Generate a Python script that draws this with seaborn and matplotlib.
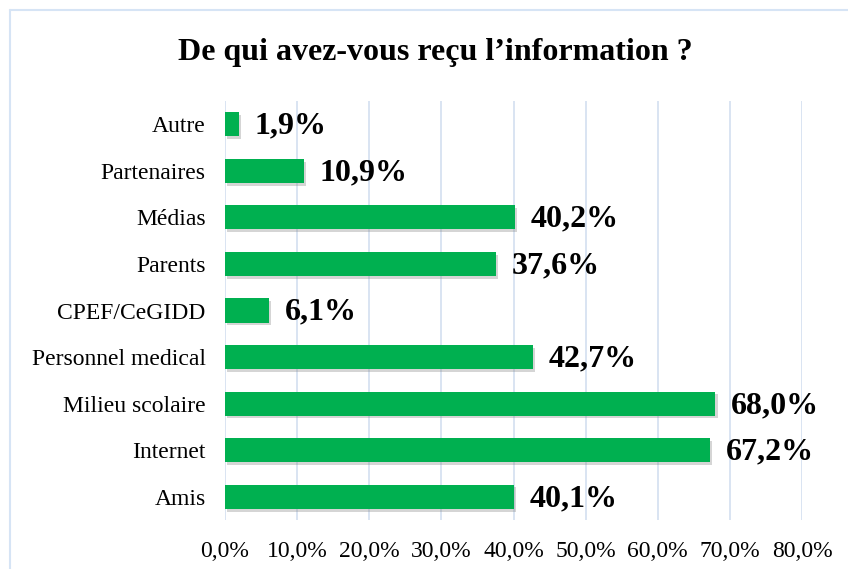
import matplotlib
matplotlib.use("Agg")
import matplotlib.pyplot as plt
import matplotlib.patheffects as pe
from matplotlib.lines import Line2D
from matplotlib.ticker import FuncFormatter, MultipleLocator
import pandas as pd
import seaborn as sns

# Data (top to bottom)
categories = ['Autre', 'Partenaires', 'Médias', 'Parents', 'CPEF/CeGIDD',
              'Personnel medical', 'Milieu scolaire', 'Internet', 'Amis']
values = [1.9, 10.9, 40.2, 37.6, 6.1, 42.7, 68.0, 67.2, 40.1]

title = "De qui avez-vous reçu l’information ?"
bar_color = '#00B050'
grid_color = '#D3DFF0'

sns.set_theme(style="white")
plt.rcParams['font.family'] = ['Liberation Serif', 'DejaVu Serif']

df = pd.DataFrame({'Source': categories, 'Pct': values})

fig = plt.figure(figsize=(8.48, 5.69), dpi=100)
ax = fig.add_axes([0.2653, 0.0861, 0.6805, 0.7364])

sns.barplot(data=df, y='Source', x='Pct', order=categories, color=bar_color,
            saturation=1, width=0.52, linewidth=0, ax=ax, zorder=3)

for patch in ax.patches:
    patch.set_path_effects([pe.SimplePatchShadow(offset=(1.5, -2), shadow_rgbFace='#777777', alpha=0.3),
                            pe.Normal()])

for i, v in enumerate(values):
    ax.text(v + 2.2, i + 0.04, f"{v:.1f}%".replace('.', ','), va='center', ha='left',
            fontsize=23, fontweight='bold', color='black')

ax.set_xlim(0, 80)
ax.set_ylim(len(categories) - 0.5, -0.5)
ax.xaxis.set_major_locator(MultipleLocator(10))
ax.xaxis.set_major_formatter(FuncFormatter(lambda x, _: f"{x:.1f}%".replace('.', ',')))
ax.grid(axis='x', color=grid_color, linewidth=1.2, zorder=0)
ax.grid(axis='y', visible=False)
for s in ax.spines.values():
    s.set_visible(False)
ax.tick_params(axis='both', length=0, colors='black')
ax.tick_params(axis='x', labelsize=17, pad=15)
ax.tick_params(axis='y', labelsize=17, pad=14)
ax.set_xlabel('')
ax.set_ylabel('')

fig.text(0.513, 0.907, title, ha='center', va='center', fontsize=23,
         fontweight='bold', color='black')

# frame of the chart area (only top and left visible)
fig.add_artist(Line2D([10 / 848, 1.0], [1 - 10 / 569, 1 - 10 / 569], color='#D6E4F5', linewidth=1.5))
fig.add_artist(Line2D([10 / 848, 10 / 848], [0, 1 - 10 / 569], color='#D6E4F5', linewidth=1.5))

fig.savefig('out.png', dpi=100)
